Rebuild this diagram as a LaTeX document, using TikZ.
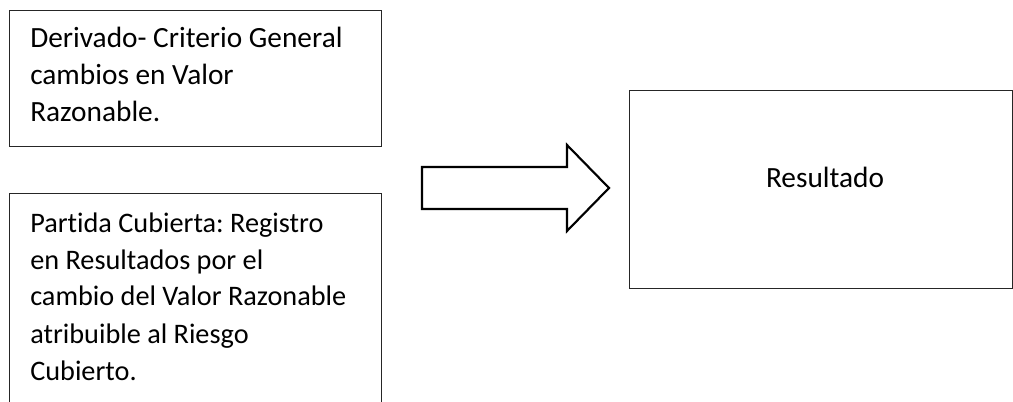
\documentclass[tikz,border=0pt]{standalone}
\usepackage{fontspec}
\setmainfont[Ligatures=NoCommon]{Carlito}
\frenchspacing
\begin{document}
\begin{tikzpicture}[x=0.75pt,y=-0.75pt,
  boxline/.style={draw=black!85, line width=0.8pt},
  txt/.style={anchor=base west, inner sep=0pt, align=left, font=\fontsize{21.2}{27.75}\selectfont},
  bigtxt/.style={font=\fontsize{22}{28}\selectfont}]
\useasboundingbox (0,0) rectangle (1013,402);
\clip (0,0) rectangle (1013,402);
% box 1
\node[boxline, anchor=north west, minimum width=372*0.75pt, minimum height=136*0.75pt, inner sep=0pt] (b1) at (9,10) {};
\node[txt, bigtxt] (t1) at (30,122) {Derivado- Criterio General\\cambios en Valor\\Razonable.};
% box 2
\node[boxline, anchor=north west, minimum width=372*0.75pt, minimum height=230*0.75pt, inner sep=0pt] (b2) at (9,193) {};
\node[txt] (t2) at (30,380) {Partida Cubierta: Registro\\en Resultados por el\\cambio del Valor Razonable\\atribuible al Riesgo\\Cubierto.};
% box 3
\node[boxline, anchor=north west, minimum width=383*0.75pt, minimum height=198*0.75pt, inner sep=0pt] (b3) at (629,90) {};
\node[anchor=base, inner sep=0pt, bigtxt] (t3) at (825,188) {Resultado};
% block arrow
\coordinate (a0) at (422,167);
\draw[line width=1.6pt, line join=miter] (a0) -- (567,167) -- (567,145) -- (609,188) -- (567,231) -- (567,209) -- (422,209) -- cycle;
\end{tikzpicture}
\end{document}
